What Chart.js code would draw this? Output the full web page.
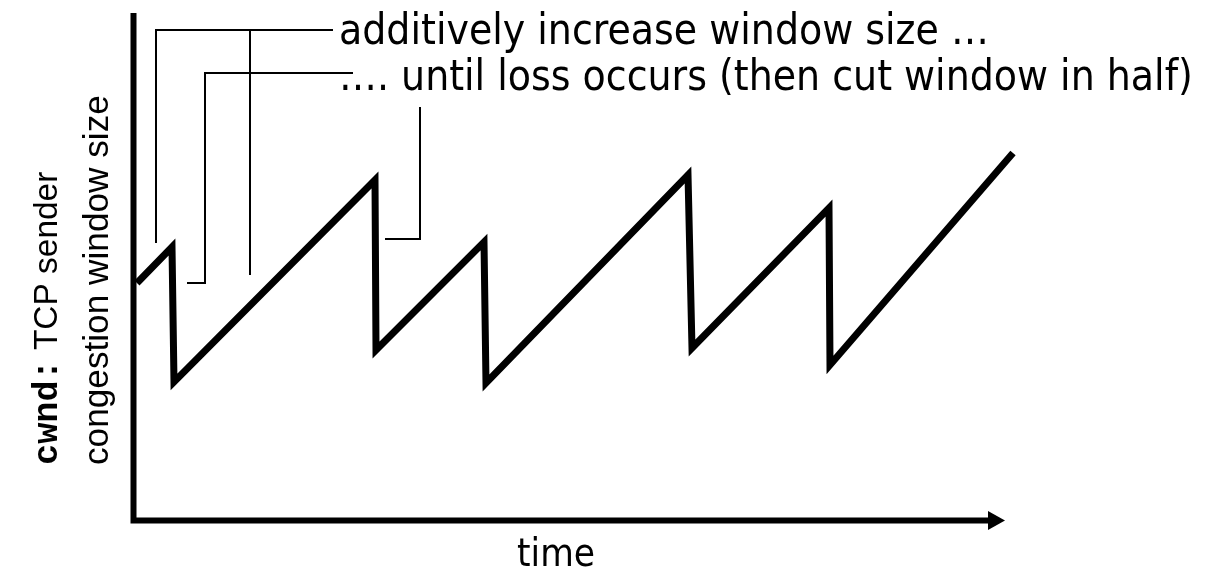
<!DOCTYPE html>
<html>
<head>
<meta charset="utf-8">
<script src="https://cdn.jsdelivr.net/npm/chart.js@4.4.0/dist/chart.umd.min.js"></script>
<style>
  html, body { margin: 0; padding: 0; background: #fff; }
</style>
</head>
<body>
<canvas id="cwndChart" width="1205" height="573"></canvas>
<script>
// AIMD sawtooth: congestion window over time (arbitrary units)
const timeValues = [0.4, 3.9, 4.1, 24.2, 24.3, 35.1, 35.3, 55.5, 55.9, 69.6, 69.7, 88.0];
const cwndValues = [47.4, 54.6, 27.6, 68, 34, 55.6, 27.4, 69, 34.4, 62.4, 31, 73.4];

const noteLines = ['additively increase window size …', '…. until loss occurs (then cut window in half)'];
const yTitleCode = 'cwnd:';
const yTitleLines = [' TCP sender', 'congestion window size'];
const xTitle = 'time';

// leader lines from the notes down to the curve, in data units
const leaders = [
    [[20, 98], [2.3, 98], [2.3, 55.4]],
    [[11.7, 98], [11.7, 49]],
    [[22, 89.4], [7.2, 89.4], [7.2, 47.4], [5.4, 47.4]],
    [[28.7, 82.6], [28.7, 56.2], [25.2, 56.2]]
];

const NOTE_FONT = '"DejaVu Sans Condensed", "DejaVu Sans", sans-serif';
const SANS = '"Liberation Sans", Arial, sans-serif';
const MONO = '"Liberation Mono", "Courier New", monospace';

function fitSize(ctx, text, family, weight, target) {
    ctx.font = `${weight} 40px ${family}`;
    return 40 * target / ctx.measureText(text).width;
}

const decor = {
    id: 'decor',
    afterDraw(chart) {
        const { ctx, chartArea, scales: { x, y } } = chart;
        ctx.save();
        ctx.fillStyle = '#000';
        ctx.strokeStyle = '#000';

        // axes
        const ax = chartArea.left + 0.5;
        const ay = chartArea.bottom + 0.5;
        ctx.lineWidth = 6;
        ctx.lineCap = 'butt';
        ctx.beginPath();
        ctx.moveTo(ax, chartArea.top);
        ctx.lineTo(ax, ay + 3);
        ctx.moveTo(ax - 3, ay);
        const tipX = x.getPixelForValue(87.2);
        ctx.lineTo(tipX - 16, ay);
        ctx.stroke();
        ctx.beginPath();
        ctx.moveTo(tipX - 17, ay - 9.5);
        ctx.lineTo(tipX, ay);
        ctx.lineTo(tipX - 17, ay + 9.5);
        ctx.closePath();
        ctx.fill();

        // leaders
        ctx.lineWidth = 2;
        leaders.forEach(pts => {
            ctx.beginPath();
            pts.forEach(([vx, vy], i) => {
                const px = Math.round(x.getPixelForValue(vx));
                const py = Math.round(y.getPixelForValue(vy));
                if (i === 0) ctx.moveTo(px, py); else ctx.lineTo(px, py);
            });
            ctx.stroke();
        });

        // notes
        const noteSize = fitSize(ctx, noteLines[1], NOTE_FONT, 'normal', 854);
        ctx.font = `${noteSize}px ${NOTE_FONT}`;
        ctx.textBaseline = 'alphabetic';
        ctx.textAlign = 'left';
        ctx.fillText(noteLines[0], 339, 44);
        ctx.fillText(noteLines[1], 339, 90);

        // x title
        const timeSize = fitSize(ctx, xTitle, NOTE_FONT, 'normal', 78);
        ctx.font = `${timeSize}px ${NOTE_FONT}`;
        ctx.textAlign = 'center';
        ctx.fillText(xTitle, 556, 566);

        // y title, rotated
        const ySize = fitSize(ctx, yTitleLines[1], SANS, 'normal', 370);
        ctx.translate(0, 465);
        ctx.rotate(-Math.PI / 2);
        ctx.textAlign = 'left';
        ctx.font = `bold ${ySize}px ${MONO}`;
        ctx.fillText(yTitleCode, 0, 57);
        const codeW = ctx.measureText(yTitleCode).width;
        ctx.font = `${ySize * 0.95}px ${SANS}`;
        ctx.fillText(yTitleLines[0], codeW, 57);
        ctx.font = `${ySize}px ${SANS}`;
        ctx.fillText(yTitleLines[1], 0, 108);
        ctx.restore();
    }
};

new Chart(document.getElementById('cwndChart'), {
    type: 'line',
    data: {
        datasets: [{
            data: timeValues.map((t, i) => ({ x: t, y: cwndValues[i] })),
            borderColor: '#000',
            borderWidth: 7,
            borderJoinStyle: 'miter',
            pointRadius: 0,
            tension: 0,
            fill: false,
            clip: false
        }]
    },
    options: {
        responsive: false,
        animation: false,
        events: [],
        layout: { padding: { left: 133, right: 192, top: 13, bottom: 53 } },
        plugins: { legend: { display: false }, tooltip: { enabled: false } },
        scales: {
            x: { type: 'linear', min: 0, max: 88, display: false },
            y: { min: 0, max: 101.4, display: false }
        }
    },
    plugins: [decor]
});
</script>
</body>
</html>
